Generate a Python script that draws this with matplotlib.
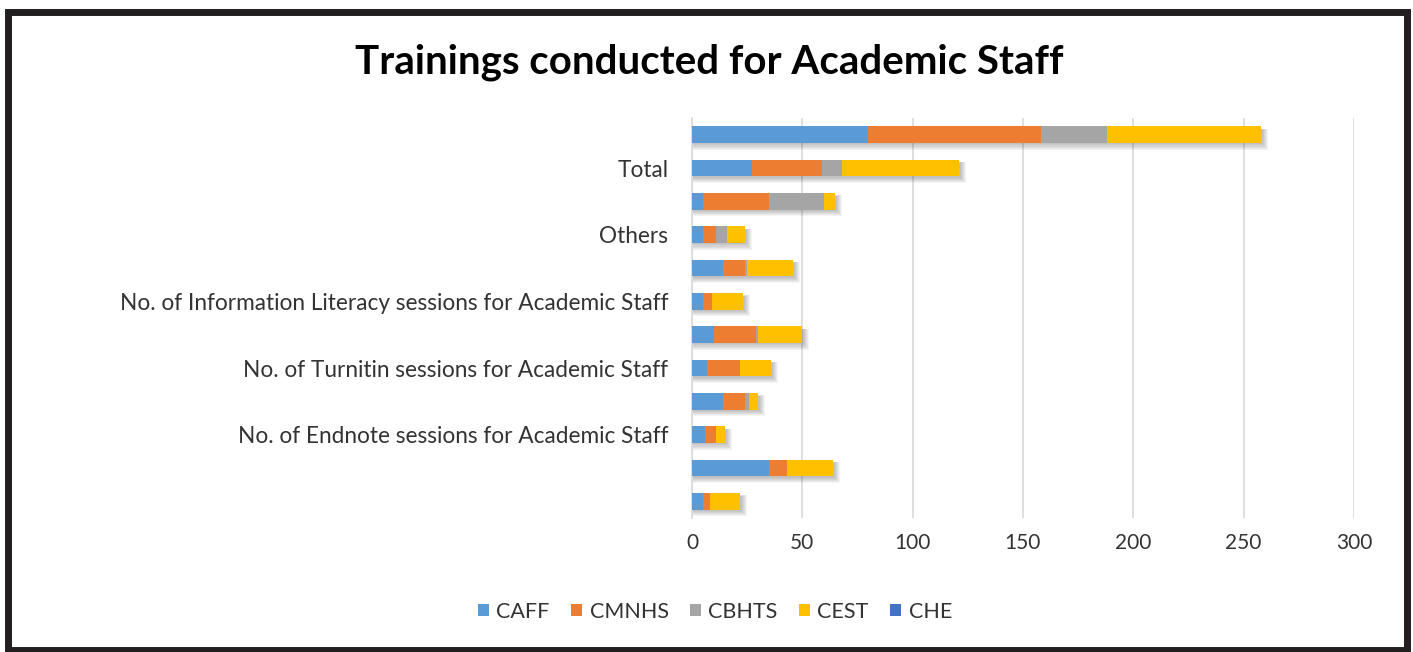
import matplotlib.pyplot as plt
import numpy as np
from matplotlib.patches import Rectangle

plt.rcParams['font.family'] = ['Lato', 'DejaVu Sans']

# categories from top to bottom (only every other label is shown in the original)
categories = ['', 'Total', '', 'Others', '',
              'No. of Information Literacy sessions for Academic Staff', '',
              'No. of Turnitin sessions for Academic Staff', '',
              'No. of Endnote sessions for Academic Staff', '', '']
series_names = ['CAFF', 'CMNHS', 'CBHTS', 'CEST', 'CHE']
caff = [80, 27, 5, 5, 14, 5, 10, 7, 14, 6, 35, 5]
cmnhs = [78, 32, 30, 6, 10, 4, 19, 15, 10, 5, 8, 3]
cbhts = [30, 9, 25, 5, 1, 0, 1, 0, 2, 0, 0, 0]
cest = [70, 53, 5, 8, 21, 14, 20, 14, 4, 4, 21, 14]
che = [0, 0, 0, 0, 0, 0, 0, 0, 0, 0, 0, 0]
colors = ['#5B9BD5', '#ED7D31', '#A5A5A5', '#FFC000', '#4472C4']

fig = plt.figure(figsize=(14.13, 6.52), dpi=100)
ax = fig.add_axes([0.4897, 0.2055, 0.4685, 0.6135])

n = len(categories)
y = np.arange(n)[::-1]
series = [caff, cmnhs, cbhts, cest, che]
totals = np.sum(series, axis=0)

# soft blurred shadow behind bars
for k in range(6):
    ax.barh(y - 0.06 - 0.015 * k, totals + 0.6 + 0.45 * k, height=0.46 + 0.035 * k,
            left=0.3, color='black', alpha=0.045, linewidth=0, zorder=2)

left = np.zeros(n)
for name, vals, c in zip(series_names, series, colors):
    ax.barh(y, vals, left=left, height=0.5, color=c, label=name, zorder=3)
    left += np.array(vals)

ax.set_xlim(0, 300)
ax.set_ylim(-0.5, n - 0.5)
ax.set_xticks(range(0, 301, 50))
ax.set_yticks(y)
ax.set_yticklabels(categories)
ax.tick_params(axis='x', length=0, labelsize=15, colors='#333333', pad=11)
ax.tick_params(axis='y', length=0, labelsize=16.3, colors='#333333', pad=17)
ax.xaxis.grid(True, color='#D9D9D9', linewidth=1.2, zorder=0)
ax.set_axisbelow(True)
for s in ['top', 'right', 'bottom']:
    ax.spines[s].set_visible(False)
ax.spines['left'].set_color('#D9D9D9')
ax.spines['left'].set_linewidth(1.2)

fig.text(0.502, 0.905, 'Trainings conducted for Academic Staff', ha='center',
         va='center', fontsize=29, fontweight='bold', color='black')

fig.legend(loc='center', bbox_to_anchor=(0.506, 0.062), ncol=5, frameon=False,
           fontsize=15.5, handlelength=0.5, handleheight=0.5, handletextpad=0.35,
           columnspacing=1.0, labelcolor='#333333')

# outer frame
fig.patches.append(Rectangle((0.006, 0.003), 0.99, 0.978, transform=fig.transFigure,
                             fill=False, edgecolor='#231F20', linewidth=5))

fig.savefig('out.png', dpi=100, facecolor='white')
plt.close()
